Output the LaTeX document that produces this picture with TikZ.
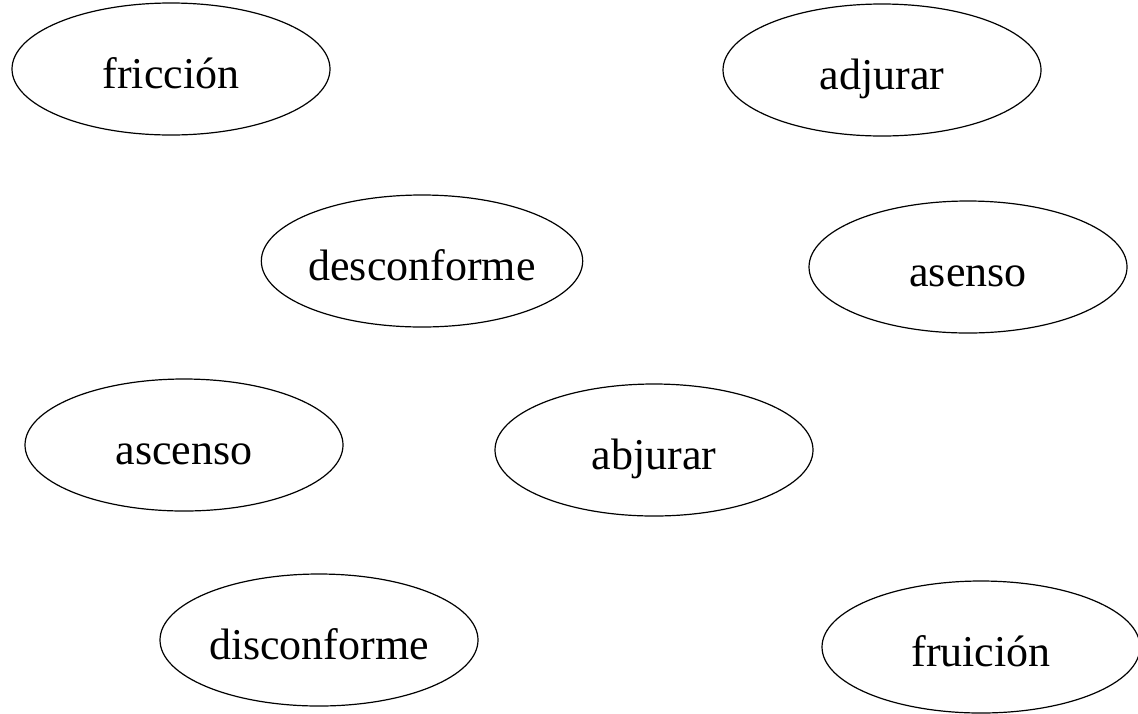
\documentclass[tikz,border=0pt]{standalone}
\usepackage{fontspec}
\setmainfont{Liberation Serif}
\usetikzlibrary{shapes.geometric}
\begin{document}
\begin{tikzpicture}[x=0.5pt,y=-0.5pt,
  word/.style={ellipse,draw,line width=0.6pt,inner sep=0pt,
    minimum width=159pt,minimum height=66pt,
    font=\fontsize{22pt}{26pt}\selectfont,
    text height=19pt,text depth=0pt}]
\useasboundingbox (0,0) rectangle (1138,713);
\node[word] (friccion) at (171,69) {fricción};
\node[word] (adjurar) at (882,70) {adjurar};
\node[word] (desconforme) at (422,261) {desconforme};
\node[word] (asenso) at (968,267) {asenso};
\node[word] (ascenso) at (184,445) {ascenso};
\node[word] (abjurar) at (654,450) {abjurar};
\node[word] (disconforme) at (319,640) {disconforme};
\node[word] (fruicion) at (981,647) {fruición};
\end{tikzpicture}
\end{document}
